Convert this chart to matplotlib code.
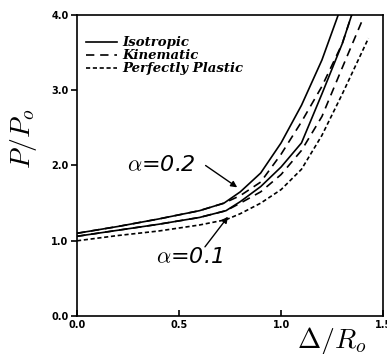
import numpy as np
import matplotlib
matplotlib.use("Agg")
from matplotlib import pyplot as plt

plt.rcParams['mathtext.fontset'] = 'cm'

# curves: Delta/R_o vs P/P_o
x_iso_02 = [0, 0.2, 0.4, 0.6, 0.72, 0.8, 0.9, 1.0, 1.1, 1.2, 1.28]
p_iso_02 = [1.10, 1.19, 1.29, 1.40, 1.50, 1.65, 1.90, 2.30, 2.80, 3.40, 4.0]

x_kin_02 = [0, 0.2, 0.4, 0.6, 0.72, 0.8, 0.9, 1.0, 1.1, 1.2, 1.3, 1.346]
p_kin_02 = [1.10, 1.19, 1.29, 1.40, 1.50, 1.60, 1.78, 2.15, 2.58, 3.05, 3.62, 4.0]

x_iso_01 = [0, 0.2, 0.4, 0.6, 0.73, 0.8, 0.9, 1.0, 1.1, 1.2, 1.3, 1.346]
p_iso_01 = [1.06, 1.14, 1.22, 1.31, 1.40, 1.52, 1.72, 1.98, 2.30, 2.95, 3.62, 4.0]

x_kin_01 = [0, 0.2, 0.4, 0.6, 0.73, 0.8, 0.9, 1.0, 1.1, 1.2, 1.3, 1.395]
p_kin_01 = [1.06, 1.14, 1.22, 1.31, 1.40, 1.50, 1.65, 1.88, 2.20, 2.65, 3.30, 3.91]

x_pp = [0, 0.2, 0.4, 0.6, 0.73, 0.8, 0.9, 1.0, 1.1, 1.2, 1.3, 1.428]
p_pp = [1.00, 1.07, 1.13, 1.21, 1.28, 1.36, 1.50, 1.68, 1.95, 2.40, 2.95, 3.69]

xticks = [0.0, 0.5, 1.0, 1.5]
yticks = [0.0, 1.0, 2.0, 3.0, 4.0]

fig = plt.figure(figsize=(3.87, 3.54), dpi=100)
ax = fig.add_axes([0.199, 0.107, 0.791, 0.851])

lw = 1.2
ax.plot(x_iso_02, p_iso_02, color='black', lw=lw, label='Isotropic')
ax.plot(x_kin_02, p_kin_02, color='black', lw=lw, dashes=(5, 3.5), label='Kinematic')
ax.plot(x_pp, p_pp, color='black', lw=lw, dashes=(2.5, 1.6), label='Perfectly Plastic')
ax.plot(x_iso_01, p_iso_01, color='black', lw=lw)
ax.plot(x_kin_01, p_kin_01, color='black', lw=lw, dashes=(5, 3.5))

ax.set_xlim(0, 1.5)
ax.set_ylim(0, 4.0)
ax.set_xticks(xticks)
ax.set_yticks(yticks)
ax.set_xticklabels(['%.1f' % v for v in xticks], fontsize=7, fontweight='bold')
ax.set_yticklabels(['%.1f' % v for v in yticks], fontsize=7, fontweight='bold')
ax.tick_params(axis='y', direction='out', length=4, width=1.2, pad=2)
ax.tick_params(axis='x', direction='in', length=4, width=1.2, pad=3)
for s in ax.spines.values():
    s.set_linewidth(1.2)

ax.set_ylabel(r'$P/P_o$', fontsize=20)
ax.yaxis.set_label_coords(-0.125, 0.59)
ax.text(1.25, -0.33, r'$\Delta/R_o$', fontsize=20, ha='center', va='center',
        transform=ax.transData, clip_on=False)

leg = ax.legend(loc='upper left', bbox_to_anchor=(0.0, 0.96), frameon=False,
                handlelength=2.3, handletextpad=0.45, labelspacing=0.0,
                borderaxespad=0.3,
                prop={'family': 'DejaVu Serif', 'style': 'italic',
                      'weight': 'bold', 'size': 9.5})

# alpha labels with arrows
ax.text(0.41, 2.0, r'$\alpha$=0.2', fontsize=16, style='italic',
        ha='center', va='center')
ax.annotate('', xy=(0.785, 1.71), xytext=(0.63, 2.0),
            arrowprops=dict(arrowstyle='-|>', color='black', lw=1.0,
                            shrinkA=0, shrinkB=0, mutation_scale=9))
ax.text(0.55, 0.78, r'$\alpha$=0.1', fontsize=16, style='italic',
        ha='center', va='center')
ax.annotate('', xy=(0.74, 1.32), xytext=(0.627, 0.92),
            arrowprops=dict(arrowstyle='-|>', color='black', lw=1.0,
                            shrinkA=0, shrinkB=0, mutation_scale=9))

fig.savefig('out.png', dpi=100)
